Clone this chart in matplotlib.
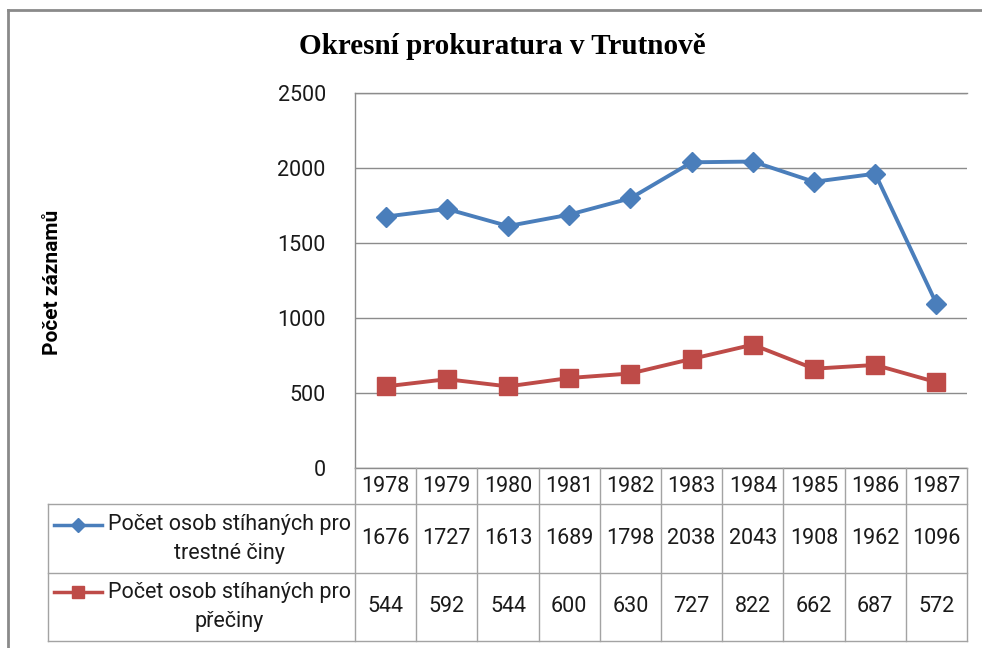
import matplotlib.pyplot as plt
from matplotlib.lines import Line2D
from matplotlib.transforms import blended_transform_factory

plt.rcParams['font.family'] = ['Roboto', 'DejaVu Sans']

years = ['1978', '1979', '1980', '1981', '1982', '1983', '1984', '1985', '1986', '1987']
trestne_ciny = [1676, 1727, 1613, 1689, 1798, 2038, 2043, 1908, 1962, 1096]
preciny = [544, 592, 544, 600, 630, 727, 822, 662, 687, 572]
series_labels = ['Počet osob stíhaných pro\ntrestné činy',
                 'Počet osob stíhaných pro\npřečiny']
title = 'Okresní prokuratura v Trutnově'
ylabel = 'Počet záznamů'

BLUE = '#4a7ebb'
RED = '#be4b48'
GRID = '#8c8c8c'
TABLE = '#a3a3a3'
BORDER = '#8a8a8a'

W, H = 982, 648
fig = plt.figure(figsize=(W / 100, H / 100), dpi=100)


def fx(px):
    return px / W


def fy(py):
    return 1 - py / H


# plot area
ax = fig.add_axes([fx(355), fy(468), fx(967) - fx(355), fy(93) - fy(468)])
x = list(range(len(years)))
ax.plot(x, trestne_ciny, color=BLUE, lw=2.8, marker='D', ms=10,
        mec=BLUE, mfc=BLUE, zorder=3)
ax.plot(x, preciny, color=RED, lw=2.8, marker='s', ms=12.5,
        mec=RED, mfc=RED, zorder=3)
ax.set_xlim(-0.5, len(years) - 0.5)
ax.set_ylim(0, 2500)
ax.set_yticks(range(0, 2501, 500))
ax.set_xticks([])
ax.yaxis.grid(True, color=GRID, lw=1)
ax.set_axisbelow(True)
ax.spines['right'].set_visible(False)
for s in ['left', 'bottom', 'top']:
    ax.spines[s].set_color(GRID)
    ax.spines[s].set_linewidth(1)
ax.tick_params(axis='y', length=0, pad=21, labelsize=15.5, labelcolor='#1a1a1a')

fig.text(fx(502), fy(47), title, ha='center', va='center',
         family='Liberation Serif', fontweight='bold', fontsize=21)
fig.text(fx(53), fy(282), ylabel, ha='center', va='center', rotation=90,
         fontweight='bold', fontsize=15)

# data table below the plot
tr = blended_transform_factory(ax.transData, fig.transFigure)
for i in range(len(years) + 1):
    fig.add_artist(Line2D([i - 0.5, i - 0.5], [fy(468), fy(641)],
                          transform=tr, color=TABLE, lw=1))
for py in [504, 573, 641]:
    fig.add_artist(Line2D([fx(48), fx(967)], [fy(py), fy(py)],
                          transform=fig.transFigure, color=TABLE, lw=1))
fig.add_artist(Line2D([fx(48), fx(48)], [fy(504), fy(641)],
                      transform=fig.transFigure, color=TABLE, lw=1))

for i, yr in enumerate(years):
    fig.text(i, fy(486), yr, transform=tr, ha='center', va='center',
             fontsize=15.5, color='#1a1a1a')

rows = [(trestne_ciny, BLUE, 'D', 7, 539, 525),
        (preciny, RED, 's', 8, 607, 592)]
for (vals, col, mk, ms, cy, ky), lab in zip(rows, series_labels):
    for i, v in enumerate(vals):
        fig.text(i, fy(cy), str(v), transform=tr, ha='center', va='center',
                 fontsize=15.5, color='#1a1a1a')
    fig.text(fx(229), fy(cy), lab, ha='center', va='center',
             multialignment='center', fontsize=15.5, linespacing=1.5,
             color='#1a1a1a')
    fig.add_artist(Line2D([fx(54), fx(102)], [fy(ky), fy(ky)],
                          transform=fig.transFigure, color=col, lw=2.5))
    fig.add_artist(Line2D([fx(78)], [fy(ky)], transform=fig.transFigure,
                          color=col, marker=mk, ms=ms, lw=0))

# outer frame (top and left edges visible)
fig.add_artist(Line2D([fx(8), fx(982)], [fy(10), fy(10)],
                      transform=fig.transFigure, color=BORDER, lw=2))
fig.add_artist(Line2D([fx(8), fx(8)], [fy(10), fy(648)],
                      transform=fig.transFigure, color=BORDER, lw=2))

fig.savefig('out.png', dpi=100)
